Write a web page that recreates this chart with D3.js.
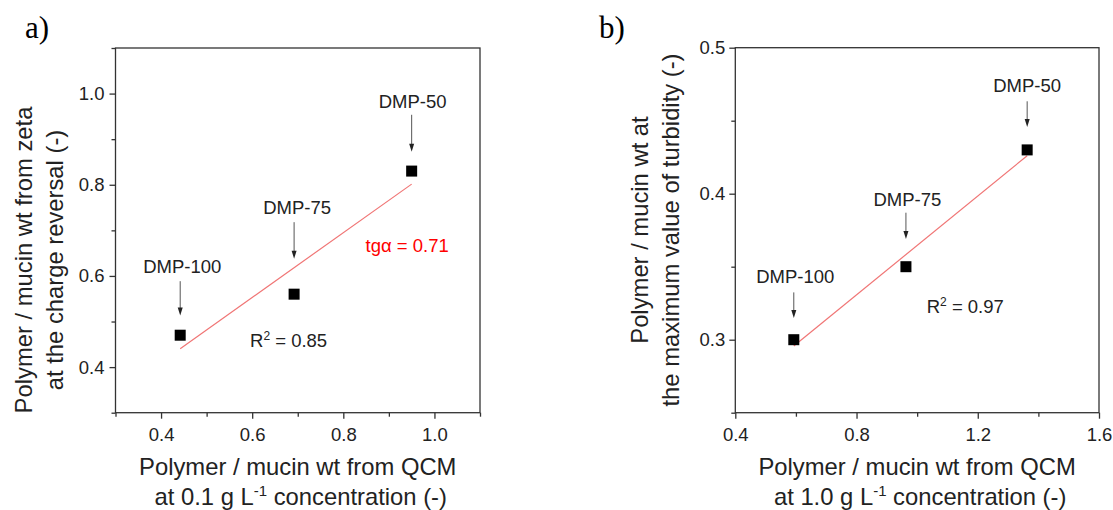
<!DOCTYPE html>
<html>
<head>
<meta charset="utf-8">
<script src="https://cdn.jsdelivr.net/npm/d3@7"></script>
<style>
  body { margin: 0; background: #fff; }
  text { font-family: "Liberation Sans", Arial, sans-serif; }
</style>
</head>
<body>
<div id="chart"></div>
<script>
// sample names, same order in both panels
const samples = ['DMP-100', 'DMP-75', 'DMP-50'];

// panel a: zeta charge reversal vs QCM at 0.1 g/L
const qcmA = [0.442, 0.692, 0.950];
const zetaA = [0.47, 0.56, 0.83];
const xTicksA = [0.4, 0.6, 0.8, 1.0];
const xMinorA = [0.3, 0.5, 0.7, 0.9, 1.1];
const yTicksA = [0.4, 0.6, 0.8, 1.0];
const yMinorA = [0.3, 0.5, 0.7, 0.9, 1.1];

// panel b: max turbidity vs QCM at 1.0 g/L
const qcmB = [0.593, 0.963, 1.363];
const turbB = [0.30, 0.35, 0.43];
const xTicksB = [0.4, 0.8, 1.2, 1.6];
const xMinorB = [0.6, 1.0, 1.4];
const yTicksB = [0.3, 0.4, 0.5];
const yMinorB = [0.25, 0.35, 0.45];

const W = 1113, H = 510;
const svg = d3.select('#chart').append('svg').attr('width', W).attr('height', H);

// least squares line through the points
function fit(xs, ys) {
  const mx = d3.mean(xs), my = d3.mean(ys);
  const sxy = d3.sum(xs, (x, i) => (x - mx) * (ys[i] - my));
  const sxx = d3.sum(xs, x => (x - mx) * (x - mx));
  const k = sxy / sxx;
  return { k: k, b: my - k * mx };
}

function drawPanel(p) {
  const g = svg.append('g');
  const x = d3.scaleLinear().domain(p.xDomain).range([p.left, p.right]);
  const y = d3.scaleLinear().domain(p.yDomain).range([p.bottom, p.top]);

  // frame
  g.append('rect')
    .attr('x', p.left).attr('y', p.top)
    .attr('width', p.right - p.left).attr('height', p.bottom - p.top)
    .attr('fill', 'none').attr('stroke', '#333').attr('stroke-width', 1.3);

  const xa = g.append('g').attr('transform', `translate(0,${p.bottom})`)
    .call(d3.axisBottom(x).tickValues(p.xTicks).tickSize(6).tickPadding(9).tickFormat(d3.format('.1f')));
  const xm = g.append('g').attr('transform', `translate(0,${p.bottom})`)
    .call(d3.axisBottom(x).tickValues(p.xMinor).tickSize(4).tickFormat(''));
  const ya = g.append('g').attr('transform', `translate(${p.left},0)`)
    .call(d3.axisLeft(y).tickValues(p.yTicks).tickSize(6).tickPadding(p.yPad).tickFormat(d3.format('.1f')));
  const ym = g.append('g').attr('transform', `translate(${p.left},0)`)
    .call(d3.axisLeft(y).tickValues(p.yMinor).tickSize(4).tickFormat(''));

  [xa, xm, ya, ym].forEach(a => {
    a.select('.domain').remove();
    a.selectAll('line').attr('stroke', '#333').attr('stroke-width', 1.3);
    a.selectAll('text').attr('font-size', 18.5).attr('fill', '#222')
      .style('font-family', '"Liberation Sans", Arial, sans-serif');
  });

  // fit line
  const f = fit(p.xs, p.ys);
  const x0 = d3.min(p.xs), x1 = d3.max(p.xs);
  g.append('line')
    .attr('x1', x(x0)).attr('y1', y(f.k * x0 + f.b))
    .attr('x2', x(x1)).attr('y2', y(f.k * x1 + f.b))
    .attr('stroke', '#f07575').attr('stroke-width', 1.2);

  // markers
  g.selectAll('rect.pt').data(p.xs).join('rect').attr('class', 'pt')
    .attr('x', (d) => x(d) - 5.5)
    .attr('y', (d, i) => y(p.ys[i]) - 5.5)
    .attr('width', 11).attr('height', 11).attr('fill', '#000');

  // sample labels with arrows
  p.xs.forEach((d, i) => {
    const px = x(d), py = y(p.ys[i]);
    const a = p.notes[i];
    g.append('text').attr('x', px + a.dx).attr('y', py + a.label)
      .attr('text-anchor', 'middle').attr('font-size', 18.5).attr('fill', '#222')
      .text(samples[i]);
    g.append('line').attr('x1', px).attr('x2', px)
      .attr('y1', py + a.from).attr('y2', py + a.to - 7)
      .attr('stroke', '#555').attr('stroke-width', 1);
    g.append('path')
      .attr('d', `M${px - 2.5},${py + a.to - 8} L${px + 2.5},${py + a.to - 8} L${px},${py + a.to} Z`)
      .attr('fill', '#222');
  });

  // R squared
  const r = g.append('text').attr('x', p.r2[0]).attr('y', p.r2[1])
    .attr('font-size', 18.5).attr('fill', '#222');
  r.append('tspan').text('R');
  r.append('tspan').attr('font-size', 12).attr('dy', -7).text('2');
  r.append('tspan').attr('dy', 7).text(' = ' + p.r2text);

  // axis titles
  const cx = (p.left + p.right) / 2;
  g.append('text').attr('x', cx).attr('y', 475).attr('text-anchor', 'middle')
    .attr('font-size', 23.8).attr('fill', '#222').text('Polymer / mucin wt from QCM');
  const t2 = g.append('text').attr('x', cx + 3).attr('y', 505).attr('text-anchor', 'middle')
    .attr('font-size', 23.8).attr('fill', '#222');
  t2.append('tspan').text(`at ${p.conc} g L`);
  t2.append('tspan').attr('font-size', 15).attr('dy', -9).text('-1');
  t2.append('tspan').attr('dy', 9).text(' concentration (-)');

  p.yTitle.forEach((line, i) => {
    g.append('text')
      .attr('transform', `translate(${p.yTitleX[i]},${p.yTitleY}) rotate(-90)`)
      .attr('text-anchor', 'middle').attr('font-size', 23.8).attr('fill', '#222')
      .text(line);
  });

  // panel letter
  g.append('text').attr('x', p.letterX).attr('y', 38)
    .style('font-family', '"Liberation Serif", "Times New Roman", serif')
    .attr('font-size', 31).attr('fill', '#000').text(p.letter);

  return { x: x, y: y, g: g };
}

const pa = drawPanel({
  left: 115.5, right: 480, top: 48, bottom: 412.7,
  xDomain: [0.3, 1.1], yDomain: [0.3, 1.1],
  xTicks: xTicksA, xMinor: xMinorA, yTicks: yTicksA, yMinor: yMinorA, yPad: 5,
  xs: qcmA, ys: zetaA,
  notes: [
    { dx: 2, label: -62.7, from: -54, to: -19.7 },
    { dx: 3, label: -79.7, from: -72, to: -35.4 },
    { dx: 1, label: -63.3, from: -56.3, to: -19.3 }
  ],
  r2: [250, 347.3], r2text: '0.85',
  conc: '0.1',
  yTitle: ['Polymer / mucin wt from zeta', 'at the charge reversal (-)'],
  yTitleX: [32, 63], yTitleY: 260,
  letter: 'a)', letterX: 25
});

// slope annotation in panel a
pa.g.append('text').attr('x', 365.5).attr('y', 252.3)
  .attr('font-size', 18.5).attr('fill', '#ff0000').text('tgα = 0.71');

drawPanel({
  left: 735.3, right: 1099, top: 47.7, bottom: 412.7,
  xDomain: [0.4, 1.6], yDomain: [0.25, 0.5],
  xTicks: xTicksB, xMinor: xMinorB, yTicks: yTicksB, yMinor: yMinorB, yPad: 4,
  xs: qcmB, ys: turbB,
  notes: [
    { dx: 1.5, label: -56.7, from: -47.3, to: -21.7 },
    { dx: 1.5, label: -61, from: -54, to: -27.7 },
    { dx: 0, label: -57.6, from: -48.6, to: -23 }
  ],
  r2: [926.7, 313.3], r2text: '0.97',
  conc: '1.0',
  yTitle: ['Polymer / mucin wt at', 'the maximum value of turbidity (-)'],
  yTitleX: [648, 679], yTitleY: 230,
  letter: 'b)', letterX: 599
});
</script>
</body>
</html>
